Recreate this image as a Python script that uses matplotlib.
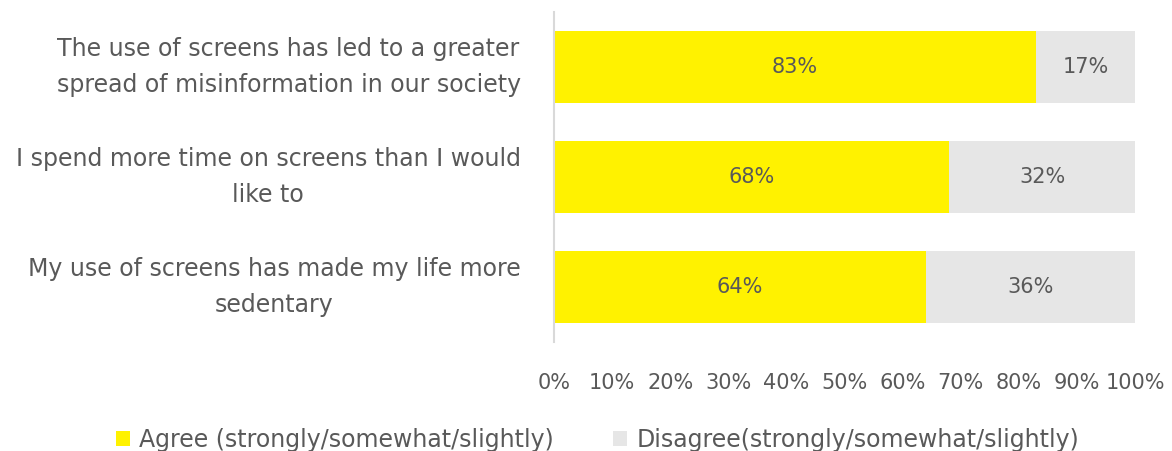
import matplotlib
matplotlib.use("Agg")
import matplotlib.pyplot as plt
from matplotlib.patches import Patch

plt.rcParams['font.family'] = ['DejaVu Sans']

categories = [
    "The use of screens has led to a greater\nspread of misinformation in our society",
    "I spend more time on screens than I would\nlike to",
    "My use of screens has made my life more\nsedentary",
]
agree = [83, 68, 64]
disagree = [17, 32, 36]
series_names = ["Agree (strongly/somewhat/slightly)", "Disagree(strongly/somewhat/slightly)"]
xticks = [0, 10, 20, 30, 40, 50, 60, 70, 80, 90, 100]
xtick_labels = [f"{t}%" for t in xticks]

YELLOW = "#FFF200"
GRAY = "#E6E6E6"
TEXT = "#595959"
FS = 15
FS_BIG = 17

fig = plt.figure(figsize=(11.72, 4.51), dpi=100)
ax = fig.add_axes([554/1172, 1 - 342/451, (1135-554)/1172, 330/451])

y = list(range(len(categories)))
ax.barh(y, agree, height=0.66, color=YELLOW, edgecolor="none")
ax.barh(y, disagree, left=agree, height=0.66, color=GRAY, edgecolor="none")

for yi, a, d in zip(y, agree, disagree):
    ax.text(a / 2, yi, f"{a}%", ha="center", va="center", color=TEXT, fontsize=FS)
    ax.text(a + d / 2, yi, f"{d}%", ha="center", va="center", color=TEXT, fontsize=FS)

ax.set_xlim(0, 100)
ax.set_ylim(2.5, -0.5)
ax.set_yticks(y)
ax.set_yticklabels(categories, fontsize=FS_BIG, color=TEXT, linespacing=1.6,
                   ha="right", va="center", multialignment="center")
ax.set_xticks(xticks)
ax.set_xticklabels(xtick_labels, fontsize=FS, color=TEXT)
ax.tick_params(axis="both", length=0)
ax.tick_params(axis="x", pad=22)
ax.tick_params(axis="y", pad=24)
for s in ["top", "right", "bottom"]:
    ax.spines[s].set_visible(False)
ax.spines["left"].set_color("#D9D9D9")
ax.spines["left"].set_linewidth(1.5)

handles = [Patch(facecolor=YELLOW, edgecolor="none"), Patch(facecolor=GRAY, edgecolor="none")]
fig.legend(handles, series_names, loc="center", bbox_to_anchor=(0.51, 0.025), ncol=2,
           frameon=False, fontsize=FS_BIG, labelcolor=TEXT, handlelength=0.6, handleheight=0.6,
           handletextpad=0.4, columnspacing=2.5)

fig.savefig("out.png", dpi=100)
